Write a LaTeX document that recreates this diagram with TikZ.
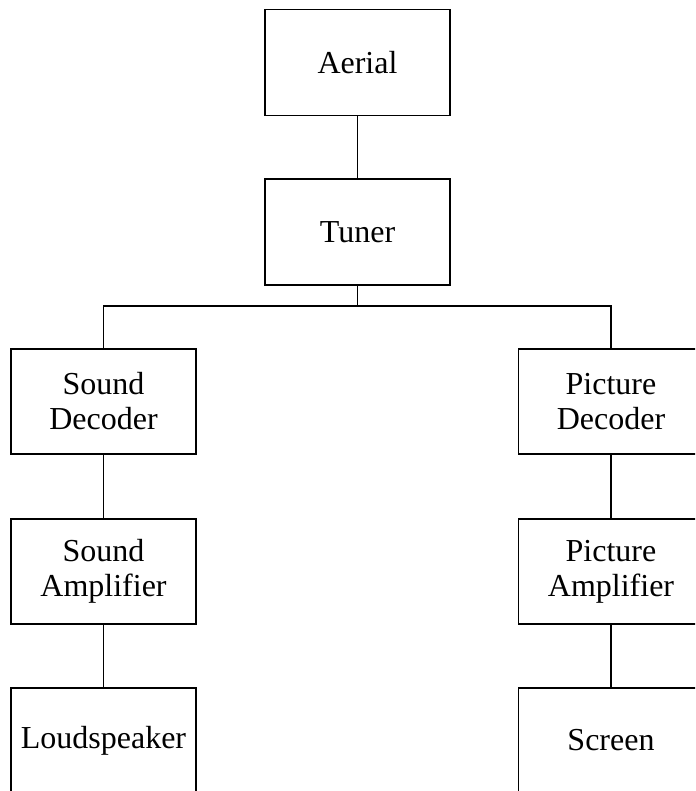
\documentclass[tikz,border=0pt]{standalone}
\usepackage{fontspec}
\setmainfont{Liberation Serif}

\begin{document}
\begin{tikzpicture}[x=1pt, y=-1pt,
        block/.style={draw, line width=1.5pt, minimum width=185pt, minimum height=105pt,
            inner sep=0pt, align=center, font=\fontsize{32}{35}\selectfont},
        link/.style={line width=1.5pt}]

        % 1. page frame (the lowest boxes are cut by the lower edge)
        \clip (0,0) rectangle (695,791);

        % 2. top chain: aerial and tuner
        \node[block, minimum height=106pt] (aerial) at (357.5,62.5) {Aerial};
        \node[block, minimum height=106pt] (tuner)  at (357.5,232)  {Tuner};
        \coordinate (bus) at (357.5,306);

        % 3. the two branches: sound on the left, picture on the right
        \foreach \name/\x/\kind in {s/103.5/Sound, p/611/Picture} {
            \node[block] (\name dec) at (\x,401.5) {\kind\\Decoder};
            \node[block] (\name amp) at (\x,571.5) {\kind\\Amplifier};
        }
        \node[block] (sout) at (103.5,740.5) {Loudspeaker};
        \node[block] (pout) at (611,740.5)   {Screen};

        % 4. connectors
        \draw[link] (aerial.south) -- (tuner.north);
        \draw[link] (tuner.south) -- (bus);
        \draw[link] (sdec.north) |- (bus) -| (pdec.north);
        \foreach \name in {s, p} {
            \draw[link] (\name dec.south) -- (\name amp.north);
            \draw[link] (\name amp.south) -- (\name out.north);
        }

    \end{tikzpicture}
\end{document}
